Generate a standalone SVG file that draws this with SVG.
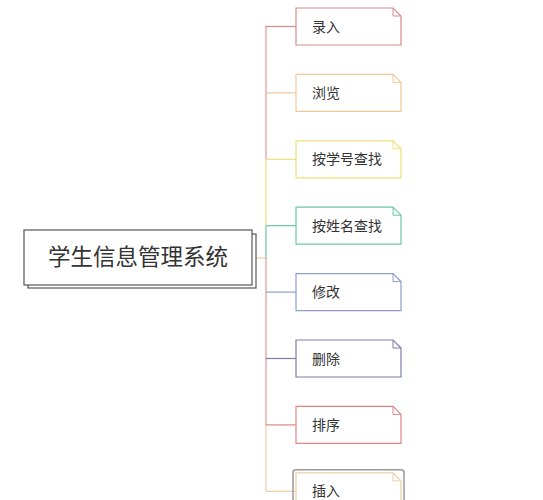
<svg xmlns="http://www.w3.org/2000/svg" width="543" height="500" viewBox="0 0 543 500">
<style>
.lbl{font-family:"Noto Sans CJK SC","Noto Sans",sans-serif;font-size:14px;fill:#333}
.root{font-family:"Noto Sans CJK SC","Noto Sans",sans-serif;font-size:22.5px;fill:#333}
.c line{stroke-width:1.2;fill:none}
.n{fill:#fff;stroke-width:1.2}
</style>
<defs>
<path id="note" d="M0,0 H97 L105,8 V37 H0 Z"/>
<path id="fold" d="M97,0 V8 H105" fill="none"/>
</defs>
<rect width="543" height="500" fill="#fff"/>
<g id="connectors" class="c">
<line x1="256" y1="258" x2="266" y2="258" stroke="#eccfa5"/>
<line x1="266" y1="26.5" x2="266" y2="159.3" stroke="#dd9a98"/>
<line x1="266" y1="159.3" x2="266" y2="225.7" stroke="#efe07a"/>
<line x1="266" y1="225.7" x2="266" y2="258" stroke="#6dc5a5"/>
<line x1="266" y1="258" x2="266" y2="424.9" stroke="#dc9a9a"/>
<line x1="266" y1="424.9" x2="266" y2="491.3" stroke="#eccfa5"/>
<line x1="265.4" y1="26.5" x2="296" y2="26.5" stroke="#d9898b"/>
<line x1="266" y1="92.9" x2="296" y2="92.9" stroke="#f0c896"/>
<line x1="266" y1="159.3" x2="296" y2="159.3" stroke="#efe07a"/>
<line x1="266" y1="225.7" x2="296" y2="225.7" stroke="#6dc5a5"/>
<line x1="266" y1="292.1" x2="296" y2="292.1" stroke="#8e9dcc"/>
<line x1="266" y1="358.5" x2="296" y2="358.5" stroke="#7b7fa8"/>
<line x1="266" y1="424.9" x2="296" y2="424.9" stroke="#e08585"/>
<line x1="265.4" y1="491.3" x2="296" y2="491.3" stroke="#eccfa5"/>
</g>
<g id="root">
<rect x="28" y="234" width="228" height="54" fill="#fff" stroke="#555" stroke-width="1.2"/>
<rect x="24" y="230" width="228" height="55" fill="#fff" stroke="#555" stroke-width="1.2"/>
<text class="root" x="138" y="265" text-anchor="middle">学生信息管理系统</text>
</g>
<g id="n1" transform="translate(296,8)" stroke="#d9898b">
<use href="#note" class="n"/><use href="#fold"/>
<text class="lbl" x="16" y="23.5" stroke="none">录入</text>
</g>
<g id="n2" transform="translate(296,74.4)" stroke="#f0c896">
<use href="#note" class="n"/><use href="#fold"/>
<text class="lbl" x="16" y="23.5" stroke="none">浏览</text>
</g>
<g id="n3" transform="translate(296,140.8)" stroke="#efe07a">
<use href="#note" class="n"/><use href="#fold"/>
<text class="lbl" x="16" y="23.5" stroke="none">按学号查找</text>
</g>
<g id="n4" transform="translate(296,207.2)" stroke="#6dc5a5">
<use href="#note" class="n"/><use href="#fold"/>
<text class="lbl" x="16" y="23.5" stroke="none">按姓名查找</text>
</g>
<g id="n5" transform="translate(296,273.6)" stroke="#8e9dcc">
<use href="#note" class="n"/><use href="#fold"/>
<text class="lbl" x="16" y="23.5" stroke="none">修改</text>
</g>
<g id="n6" transform="translate(296,340)" stroke="#7b7fa8">
<use href="#note" class="n"/><use href="#fold"/>
<text class="lbl" x="16" y="23.5" stroke="none">删除</text>
</g>
<g id="n7" transform="translate(296,406.4)" stroke="#e08585">
<use href="#note" class="n"/><use href="#fold"/>
<text class="lbl" x="16" y="23.5" stroke="none">排序</text>
</g>
<g id="n8" transform="translate(296,472.8)" stroke="#eccfa5">
<rect x="-3" y="-3" width="111" height="43" rx="3" fill="none" stroke="#999" stroke-width="1.5"/>
<use href="#note" class="n"/><use href="#fold"/>
<text class="lbl" x="16" y="23.5" stroke="none">插入</text>
</g>
</svg>
